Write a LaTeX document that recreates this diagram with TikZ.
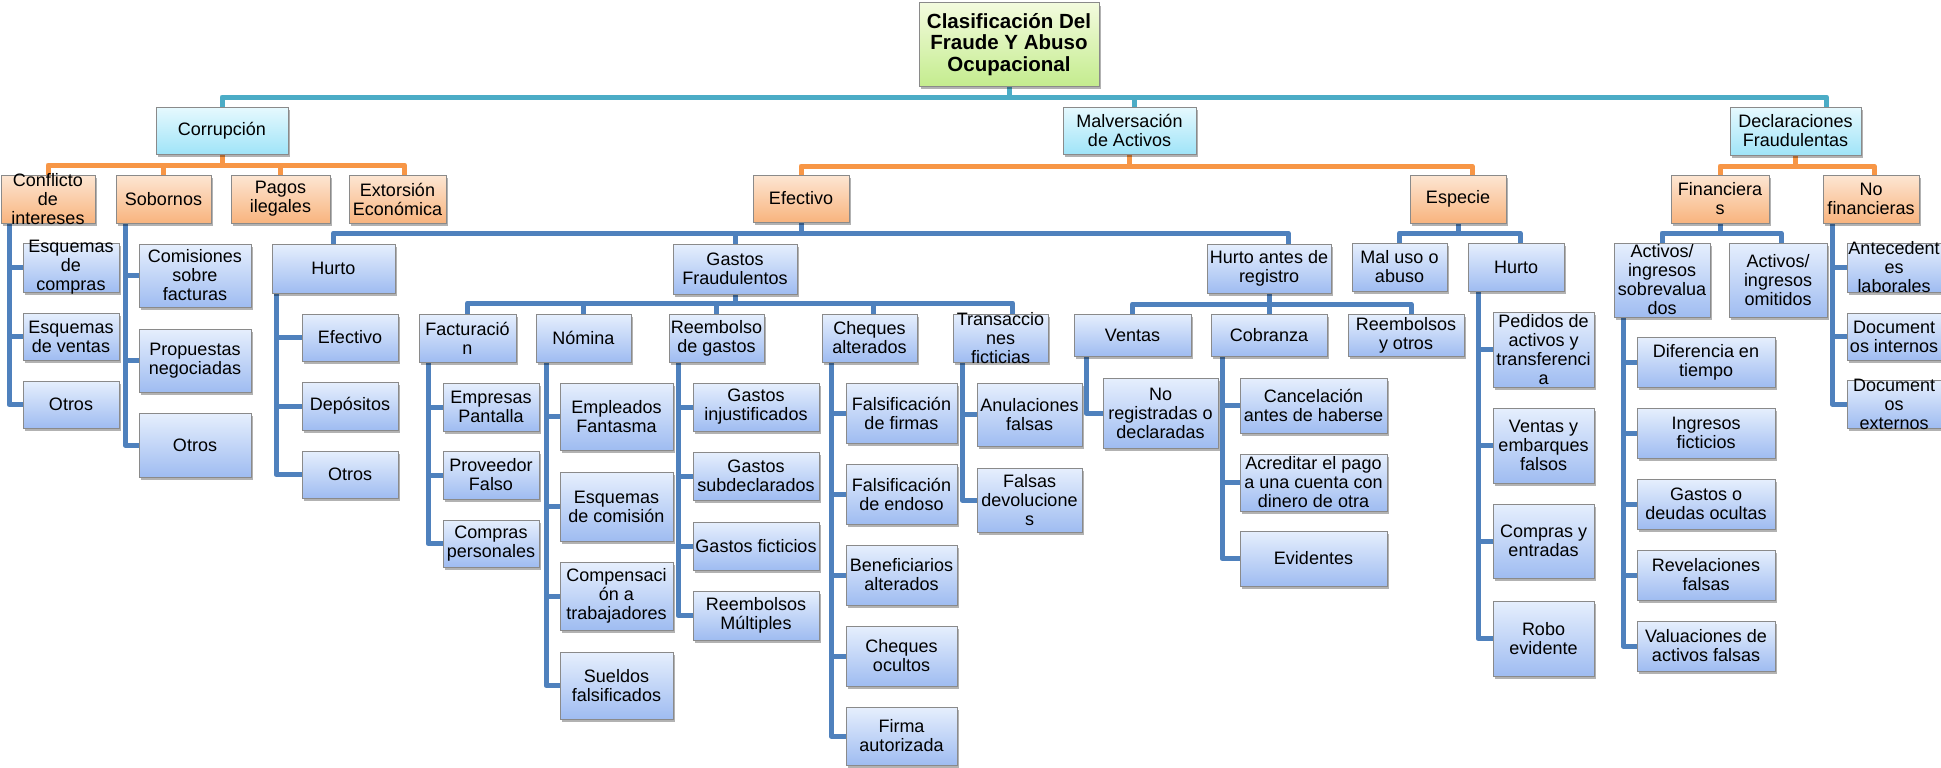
\documentclass[tikz,border=0pt]{standalone}
\usepackage{fontspec}
\setmainfont{Liberation Sans}
\usetikzlibrary{shadows,calc}
\pgfdeclarelayer{bg}
\pgfsetlayers{bg,main}
\definecolor{bTop}{HTML}{E6EFFD}
\definecolor{bBot}{HTML}{9FBCF1}
\definecolor{oTop}{HTML}{FDE6D3}
\definecolor{oBot}{HTML}{F8B47E}
\definecolor{cTop}{HTML}{E6F9FE}
\definecolor{cBot}{HTML}{A0E4F8}
\definecolor{gTop}{HTML}{F3FBDE}
\definecolor{gBot}{HTML}{C4EC8E}
\definecolor{boxline}{HTML}{8A8A8A}
\definecolor{tealc}{HTML}{4BACC6}
\definecolor{orangec}{HTML}{F79646}
\definecolor{bluec}{HTML}{4F81BD}
\tikzset{
  boxbase/.style={rectangle, inner sep=0pt, outer sep=0pt, draw=boxline, line width=1pt,
    drop shadow={shadow xshift=2pt, shadow yshift=-3pt, opacity=0.3, fill=black}},
  bluebox/.style={boxbase, top color=bTop, bottom color=bBot},
  orangebox/.style={boxbase, top color=oTop, bottom color=oBot},
  cyanbox/.style={boxbase, top color=cTop, bottom color=cBot},
  greenbox/.style={boxbase, top color=gTop, bottom color=gBot},
  lbl/.style={align=center, inner sep=0pt, font=\fontsize{18}{19}\selectfont, text=black},
  rootlbl/.style={align=center, inner sep=0pt, font=\bfseries\fontsize{20.5}{21.5}\selectfont, text=black},
  tline/.style={line width=5pt, draw=tealc, line join=round},
  oline/.style={line width=5pt, draw=orangec, line join=round},
  bline/.style={line width=5pt, draw=bluec, line join=round},
}
\newcommand\mkbox[7]{\node[#2, minimum width={#5-#3}, minimum height={#6-#4},
  label={[lbl]center:{#7}}] (#1) at ({(#3+#5)/2},{(#4+#6)/2}) {};}
\newcommand\hb[5]{\draw[#1] (#2.south) -- ++(0,#3) -| ([xshift=#5]#4.north);}
\newcommand\vb[4]{\foreach \kid in {#4} {\draw[#1] ([xshift=#3]#2.south west) |- (\kid.west);}}
\begin{document}
\begin{tikzpicture}[x=1pt,y=-1pt]
\useasboundingbox (0,0) rectangle (1941,768);
% root
\node[greenbox, minimum width=180, minimum height=83,
  label={[rootlbl]center:{Clasificación Del\\Fraude Y Abuso\\Ocupacional}}] (root) at (1009,44.5) {};
% level 1
\mkbox{cor}{cyanbox}{156}{107}{288}{154}{Corrupción}
\mkbox{mal}{cyanbox}{1063}{107}{1196}{154}{Malversación\\de Activos}
\mkbox{dec}{cyanbox}{1730}{107}{1861}{155}{Declaraciones\\Fraudulentas}
% level 2
\mkbox{con}{orangebox}{1}{175}{95}{223}{Conflicto\\de\\intereses}
\mkbox{sob}{orangebox}{116}{175}{211}{223}{Sobornos}
\mkbox{pag}{orangebox}{231}{175}{330}{223}{Pagos\\ilegales}
\mkbox{ext}{orangebox}{349}{175}{446}{223}{Extorsión\\Económica}
\mkbox{efe}{orangebox}{753}{175}{849}{222}{Efectivo}
\mkbox{esp}{orangebox}{1410}{175}{1506}{223}{Especie}
\mkbox{fin}{orangebox}{1671}{175}{1769}{223}{Financiera\\s}
\mkbox{nof}{orangebox}{1823}{175}{1919}{223}{No\\financieras}
% conflicto
\mkbox{ec}{bluebox}{23}{243}{119}{292}{Esquemas\\de\\compras}
\mkbox{ev}{bluebox}{23}{313}{119}{360}{Esquemas\\de ventas}
\mkbox{eo}{bluebox}{23}{381}{119}{428}{Otros}
% sobornos
\mkbox{sc}{bluebox}{139}{244}{251}{307}{Comisiones\\sobre\\facturas}
\mkbox{sp}{bluebox}{139}{329}{251}{392}{Propuestas\\negociadas}
\mkbox{so}{bluebox}{139}{413}{251}{477}{Otros}
% efectivo
\mkbox{hu}{bluebox}{272}{244}{395}{293}{Hurto}
\mkbox{he}{bluebox}{302}{314}{398}{361}{Efectivo}
\mkbox{hd}{bluebox}{302}{382}{398}{430}{Depósitos}
\mkbox{ho}{bluebox}{302}{451}{398}{498}{Otros}
\mkbox{gf}{bluebox}{673}{244}{797}{294}{Gastos\\Fraudulentos}
\mkbox{har}{bluebox}{1207}{244}{1331}{293}{Hurto antes de\\registro}
% gastos fraudulentos
\mkbox{fa}{bluebox}{419}{314}{516}{362}{Facturació\\n}
\mkbox{no}{bluebox}{536}{314}{631}{362}{Nómina}
\mkbox{re}{bluebox}{669}{314}{764}{362}{Reembolso\\de gastos}
\mkbox{ch}{bluebox}{822}{314}{917}{362}{Cheques\\alterados}
\mkbox{tr}{bluebox}{953}{314}{1048}{362}{Transaccio\\nes\\ficticias}
\mkbox{fa1}{bluebox}{443}{383}{539}{431}{Empresas\\Pantalla}
\mkbox{fa2}{bluebox}{443}{451}{539}{499}{Proveedor\\Falso}
\mkbox{fa3}{bluebox}{443}{520}{539}{567}{Compras\\personales}
\mkbox{no1}{bluebox}{560}{383}{673}{450}{Empleados\\Fantasma}
\mkbox{no2}{bluebox}{560}{472}{673}{541}{Esquemas\\de comisión}
\mkbox{no3}{bluebox}{560}{562}{673}{630}{Compensaci\\ón a\\trabajadores}
\mkbox{no4}{bluebox}{560}{652}{673}{719}{Sueldos\\falsificados}
\mkbox{re1}{bluebox}{693}{383}{819}{431}{Gastos\\injustificados}
\mkbox{re2}{bluebox}{693}{452}{819}{500}{Gastos\\subdeclarados}
\mkbox{re3}{bluebox}{693}{522}{819}{570}{Gastos ficticios}
\mkbox{re4}{bluebox}{693}{591}{819}{640}{Reembolsos\\Múltiples}
\mkbox{ch1}{bluebox}{846}{383}{957}{443}{Falsificación\\de firmas}
\mkbox{ch2}{bluebox}{846}{464}{957}{524}{Falsificación\\de endoso}
\mkbox{ch3}{bluebox}{846}{545}{957}{605}{Beneficiarios\\alterados}
\mkbox{ch4}{bluebox}{846}{626}{957}{686}{Cheques\\ocultos}
\mkbox{ch5}{bluebox}{846}{707}{957}{765}{Firma\\autorizada}
\mkbox{tr1}{bluebox}{977}{383}{1082}{446}{Anulaciones\\falsas}
\mkbox{tr2}{bluebox}{977}{468}{1082}{532}{Falsas\\devolucione\\s}
% hurto antes de registro
\mkbox{ve}{bluebox}{1074}{314}{1191}{356}{Ventas}
\mkbox{cb}{bluebox}{1211}{314}{1327}{356}{Cobranza}
\mkbox{ro}{bluebox}{1348}{314}{1464}{356}{Reembolsos\\y otros}
\mkbox{ve1}{bluebox}{1103}{378}{1218}{448}{No\\registradas o\\declaradas}
\mkbox{cb1}{bluebox}{1240}{378}{1387}{433}{Cancelación\\antes de haberse}
\mkbox{cb2}{bluebox}{1240}{454}{1387}{511}{Acreditar el pago\\a una cuenta con\\dinero de otra}
\mkbox{cb3}{bluebox}{1240}{531}{1387}{586}{Evidentes}
% especie
\mkbox{mu}{bluebox}{1352}{243}{1447}{291}{Mal uso o\\abuso}
\mkbox{hu2}{bluebox}{1468}{243}{1564}{291}{Hurto}
\mkbox{hua}{bluebox}{1493}{312}{1594}{387}{Pedidos de\\activos y\\transferenci\\a}
\mkbox{hub}{bluebox}{1493}{408}{1594}{483}{Ventas y\\embarques\\falsos}
\mkbox{huc}{bluebox}{1493}{504}{1594}{578}{Compras y\\entradas}
\mkbox{hud}{bluebox}{1493}{601}{1594}{676}{Robo\\evidente}
% financieras
\mkbox{as}{bluebox}{1614}{243}{1710}{317}{Activos/\\ingresos\\sobrevalua\\dos}
\mkbox{ao}{bluebox}{1729}{243}{1827}{317}{Activos/\\ingresos\\omitidos}
\mkbox{as1}{bluebox}{1637}{337}{1775}{387}{Diferencia en\\tiempo}
\mkbox{as2}{bluebox}{1637}{408}{1775}{458}{Ingresos\\ficticios}
\mkbox{as3}{bluebox}{1637}{479}{1775}{529}{Gastos o\\deudas ocultas}
\mkbox{as4}{bluebox}{1637}{550}{1775}{600}{Revelaciones\\falsas}
\mkbox{as5}{bluebox}{1637}{621}{1775}{671}{Valuaciones de\\activos falsas}
% no financieras
\mkbox{nf1}{bluebox}{1847}{243}{1941}{292}{Antecedent\\es\\laborales}
\mkbox{nf2}{bluebox}{1847}{313}{1941}{360}{Document\\os internos}
\mkbox{nf3}{bluebox}{1847}{380}{1941}{428}{Document\\os\\externos}
% connectors
\begin{pgfonlayer}{bg}
\fill[white] (0,0) rectangle (1941,768);
\hb{tline}{root}{11}{cor}{0}
\hb{tline}{root}{11}{mal}{5}
\hb{tline}{root}{11}{dec}{31}
\hb{oline}{cor}{11}{con}{0}
\hb{oline}{cor}{11}{sob}{0}
\hb{oline}{cor}{11}{pag}{0}
\hb{oline}{cor}{11}{ext}{7}
\hb{oline}{mal}{12}{efe}{0}
\hb{oline}{mal}{12}{esp}{14}
\hb{oline}{dec}{11}{fin}{0}
\hb{oline}{dec}{11}{nof}{3}
\hb{bline}{efe}{11}{hu}{0}
\hb{bline}{efe}{11}{gf}{0}
\hb{bline}{efe}{11}{har}{19}
\hb{bline}{esp}{10}{mu}{0}
\hb{bline}{esp}{10}{hu2}{4}
\hb{bline}{fin}{10}{as}{0}
\hb{bline}{fin}{10}{ao}{3}
\hb{bline}{gf}{9}{fa}{0}
\hb{bline}{gf}{9}{no}{0}
\hb{bline}{gf}{9}{re}{0}
\hb{bline}{gf}{9}{ch}{4}
\hb{bline}{gf}{9}{tr}{12}
\hb{bline}{har}{11}{ve}{0}
\hb{bline}{har}{11}{cb}{0}
\hb{bline}{har}{11}{ro}{5}
\vb{bline}{con}{8}{ec,ev,eo}
\vb{bline}{sob}{9}{sc,sp,so}
\vb{bline}{hu}{4}{he,hd,ho}
\vb{bline}{fa}{9}{fa1,fa2,fa3}
\vb{bline}{no}{10}{no1,no2,no3,no4}
\vb{bline}{re}{9}{re1,re2,re3,re4}
\vb{bline}{ch}{9}{ch1,ch2,ch3,ch4,ch5}
\vb{bline}{tr}{9}{tr1,tr2}
\vb{bline}{ve}{12}{ve1}
\vb{bline}{cb}{11}{cb1,cb2,cb3}
\vb{bline}{hu2}{10}{hua,hub,huc,hud}
\vb{bline}{as}{9}{as1,as2,as3,as4,as5}
\vb{bline}{nof}{9}{nf1,nf2,nf3}
\end{pgfonlayer}
\end{tikzpicture}
\end{document}
